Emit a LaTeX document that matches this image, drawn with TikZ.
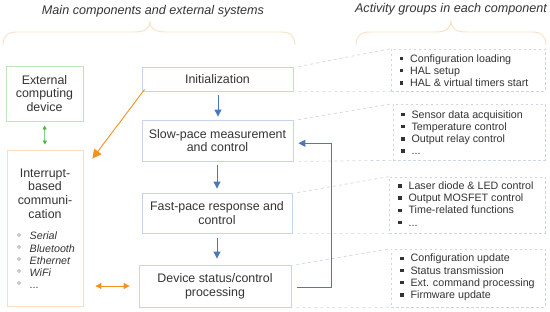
\documentclass[tikz,border=0pt]{standalone}
\usepackage{fontspec}
\setmainfont{Liberation Sans}
\usetikzlibrary{arrows.meta,calc}
\definecolor{txt}{HTML}{333333}
\definecolor{bluebd}{HTML}{C6D5EA}
\definecolor{bluearr}{HTML}{4A78BE}
\definecolor{greenbd}{HTML}{BFE3BF}
\definecolor{greenarr}{HTML}{4DB34D}
\definecolor{orangebd}{HTML}{FBDDC2}
\definecolor{orangearr}{HTML}{F5901E}
\definecolor{bracec}{HTML}{FAE0C4}
\definecolor{dashc}{HTML}{CCD7E6}
\newcommand\sqbul{\rule[0.18em]{3.4pt}{3.4pt}\hspace{7pt}}
\tikzset{
  every node/.style={text=txt, inner sep=0pt},
  mainbox/.style={draw=bluebd, line width=0.8pt, align=center, font=\fontsize{12.4}{13.8}\selectfont},
  extbox/.style={draw=greenbd, line width=0.8pt, align=center, font=\fontsize{12.4}{13.8}\selectfont},
  combox/.style={draw=orangebd, line width=0.8pt},
  actbox/.style={draw=dashc, line width=0.7pt, dash pattern=on 2.5pt off 2.5pt},
  acttext/.style={anchor=west, align=left, font=\fontsize{10.7}{12.2}\selectfont},
  link/.style={draw=dashc, line width=0.7pt, dash pattern=on 3pt off 3pt},
  flow/.style={draw=bluearr, line width=0.85pt, -{Triangle[width=7pt,length=7pt]}},
  brc/.style={draw=bracec, line width=0.9pt},
  ttl/.style={font=\fontsize{12.6}{14}\selectfont\itshape, text=txt}
}
\begin{document}
\begin{tikzpicture}[x=1pt,y=-1pt]
\useasboundingbox (0,0) rectangle (550,312);
% titles
\node[ttl] (t1) at (153,11) {Main components and external systems};
\node[ttl] (t2) at (451,9) {Activity groups in each component};
% braces
\draw[brc] (3,45) .. controls (3,36) and (8,32) .. (17,32) -- (134,32) .. controls (145,32) and (150,29) .. (150,21) .. controls (150,29) and (155,32) .. (166,32) -- (281,32) .. controls (290,32) and (295,36) .. (295,45);
\draw[brc] (356,45) .. controls (356,36) and (361,32) .. (370,32) -- (435,32) .. controls (446,32) and (451,29) .. (451,20) .. controls (451,29) and (456,32) .. (467,32) -- (532,32) .. controls (541,32) and (546,36) .. (546,45);
% left boxes
\node[extbox, minimum width=77pt, minimum height=55pt] (ext) at (44.5,93.5) {External\\computing\\device};
\node[combox, minimum width=76pt, minimum height=156pt] (intr) at (45,228) {};
\node[align=center, font=\fontsize{12.4}{13.7}\selectfont] (intrt) at (45,193.5) {Interrupt-\\based\\communi-\\cation};
\node[anchor=west, align=left, font=\fontsize{10.7}{12.2}\selectfont\itshape] (intrl) at (29.5,260.5) {Serial\\Bluetooth\\Ethernet\\WiFi\\\upshape ...};
\foreach \y in {235,247,259,271,283} \draw[gray!80, line width=0.5pt] (19,\y) circle (1.6);
% main flow boxes
\node[mainbox, minimum width=151pt, minimum height=24pt] (init) at (217.5,79) {Initialization};
\node[mainbox, minimum width=151pt, minimum height=41pt] (slow) at (217.5,140.5) {Slow-pace measurement\\and control};
\node[mainbox, minimum width=150pt, minimum height=40pt] (fast) at (217,213) {Fast-pace response and\\control};
\node[mainbox, minimum width=152pt, minimum height=42pt] (dev) at (215,286) {Device status/control\\processing};
% activity boxes
\node[actbox, minimum width=154pt, minimum height=42pt] (r1) at (468,70) {};
\node[actbox, minimum width=152pt, minimum height=56pt] (r2) at (469,132) {};
\node[actbox, minimum width=156pt, minimum height=56pt] (r3) at (467,205) {};
\node[actbox, minimum width=154pt, minimum height=58pt] (r4) at (468,278) {};
\node[acttext] (a1) at (399.5,70.5) {\sqbul Configuration loading\\\sqbul HAL setup\\\sqbul HAL \& virtual timers start};
\node[acttext] (a2) at (401,132.5) {\sqbul Sensor data acquisition\\\sqbul Temperature control\\\sqbul Output relay control\\\sqbul ...};
\node[acttext] (a3) at (398,204) {\sqbul Laser diode \& LED control\\\sqbul Output MOSFET control\\\sqbul Time-related functions\\\sqbul ...};
\node[acttext] (a4) at (400,277.5) {\sqbul Configuration update\\\sqbul Status transmission\\\sqbul Ext. command processing\\\sqbul Firmware update};
% dashed links
\draw[link] ([xshift=5pt]init.north east) -- (r1.north west);
\draw[link] ([xshift=5pt]init.south east) -- (r1.south west);
\draw[link] ([xshift=5pt]slow.north east) -- (r2.north west);
\draw[link] ([xshift=5pt]slow.south east) -- (r2.south west);
\draw[link] ([xshift=5pt]fast.north east) -- (r3.north west);
\draw[link] ([xshift=5pt]fast.south east) -- (r3.south west);
\draw[link] ([xshift=5pt]dev.north east) -- (r4.north west);
\draw[link] ([xshift=5pt]dev.south east) -- (r4.south west);
% flow arrows
\draw[flow, shorten <=4pt, shorten >=3pt] (init.south -| 218,0) -- (slow.north -| 218,0);
\draw[flow, shorten <=4pt, shorten >=4pt] (slow.south -| 217,0) -- (fast.north -| 217,0);
\draw[flow, shorten <=5pt, shorten >=6pt] (fast.south -| 217,0) -- (dev.north -| 217,0);
\coordinate (fb1) at (331.7,287);
\coordinate (fb2) at (331.7,143.3);
\draw[flow] ([xshift=6pt]dev.east |- fb1) -- (fb1) -- (fb2) -- ([xshift=5pt]slow.east |- fb2);
% orange and green arrows
\draw[draw=orangearr, line width=0.9pt, -{Triangle[width=9pt,length=9pt]}] ([xshift=3pt,yshift=2pt]init.south west) -- ([xshift=9pt,yshift=-9pt]intr.north east);
\draw[draw=orangearr, line width=0.9pt, {Triangle[width=6pt,length=6pt]}-{Triangle[width=6pt,length=6pt]}, shorten <=12pt, shorten >=9pt] (intr.east |- dev.west) -- (dev.west);
\draw[draw=greenarr, line width=0.8pt, {Triangle[width=4pt,length=4pt]}-{Triangle[width=4pt,length=4pt]}, shorten <=4pt, shorten >=5pt] (ext.south) -- (intr.north);
\end{tikzpicture}
\end{document}
